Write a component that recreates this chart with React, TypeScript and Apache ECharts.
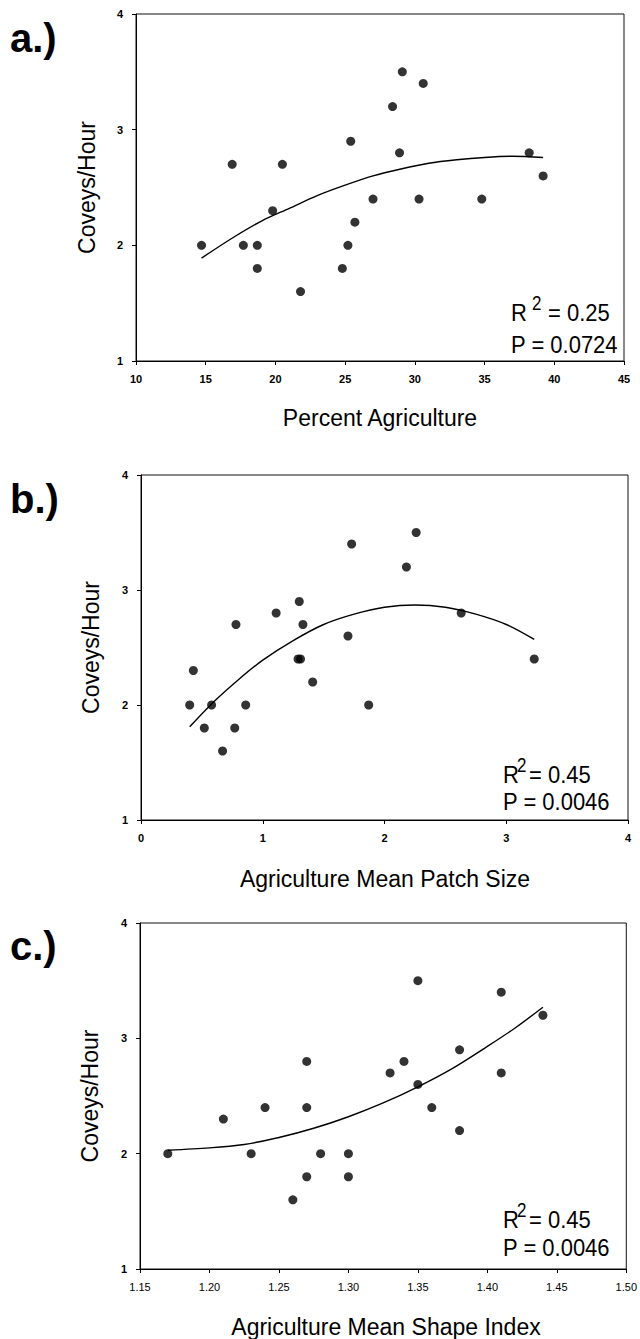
import React, { useEffect, useRef } from 'react';
import * as echarts from 'echarts';

const FONT = '"Liberation Sans", Arial, Helvetica, sans-serif';

// ---- Data ----
const pointsA: [number, number][] = [
  [14.7, 2.0], [16.9, 2.7], [17.7, 2.0], [18.7, 2.0], [18.7, 1.8], [19.8, 2.3], [20.5, 2.7],
  [21.8, 1.6], [24.8, 1.8], [25.2, 2.0], [25.4, 2.9], [25.7, 2.2], [27.0, 2.4], [28.4, 3.2],
  [29.1, 3.5], [28.9, 2.8], [30.3, 2.4], [30.6, 3.4], [34.8, 2.4], [38.2, 2.8], [39.2, 2.6],
];
const fitA: [number, number][] = [
  [14.7, 1.89], [17, 2.07], [19, 2.21], [21, 2.32], [23, 2.43], [25, 2.52], [27, 2.6],
  [29, 2.66], [31, 2.71], [33, 2.74], [35, 2.76], [37, 2.77], [39.2, 2.76],
];
const pointsB: [number, number][] = [
  [0.40, 2.0], [0.43, 2.3], [0.52, 1.8], [0.58, 2.0], [0.67, 1.6], [0.77, 1.8], [0.78, 2.7],
  [0.86, 2.0], [1.11, 2.8], [1.30, 2.9], [1.33, 2.7], [1.29, 2.4], [1.31, 2.4], [1.41, 2.2],
  [1.70, 2.6], [1.73, 3.4], [1.87, 2.0], [2.18, 3.2], [2.26, 3.5], [2.63, 2.8], [3.23, 2.4],
];
const fitB: [number, number][] = [
  [0.40, 1.81], [0.6, 2.03], [0.8, 2.22], [1.0, 2.39], [1.25, 2.56], [1.5, 2.7], [1.75, 2.79],
  [2.0, 2.85], [2.25, 2.87], [2.5, 2.85], [2.75, 2.79], [3.0, 2.7], [3.23, 2.57],
];
const pointsC: [number, number][] = [
  [1.17, 2.0], [1.21, 2.3], [1.23, 2.0], [1.24, 2.4], [1.26, 1.6], [1.27, 2.8], [1.27, 2.4],
  [1.27, 1.8], [1.28, 2.0], [1.30, 2.0], [1.30, 1.8], [1.33, 2.7], [1.34, 2.8], [1.35, 3.5],
  [1.35, 2.6], [1.36, 2.4], [1.38, 2.9], [1.38, 2.2], [1.41, 3.4], [1.41, 2.7], [1.44, 3.2],
];
const fitC: [number, number][] = [
  [1.17, 2.03], [1.2, 2.05], [1.225, 2.08], [1.25, 2.14], [1.275, 2.22], [1.3, 2.32],
  [1.325, 2.44], [1.35, 2.58], [1.375, 2.74], [1.4, 2.93], [1.42, 3.09], [1.44, 3.27],
];

const panelLabels = ['a.)', 'b.)', 'c.)'];
const xTitles = ['Percent Agriculture', 'Agriculture Mean Patch Size', 'Agriculture Mean Shape Index'];
const yTitle = 'Coveys/Hour';
const r2Values = ['= 0.25', '= 0.45', '= 0.45'];
const pValues = ['P = 0.0724', 'P = 0.0046', 'P = 0.0046'];
const xRanges: [number, number, number][] = [[10, 45, 5], [0, 4, 1], [1.15, 1.5, 0.05]];
const xDecimals = [0, 0, 2];
const yRange: [number, number, number] = [1, 4, 1];

// ---- Layout ----
const layout = [
  { grid: { left: 136, top: 14, width: 488, height: 347 }, labelY: 38, xTitle: [380, 418], yTitleP: [87, 187.5],
    r: [511, 312.5], sup: [532, 302.5], eq: [548, 312.5], p: [511, 344.5], boldTicks: true },
  { grid: { left: 141, top: 475, width: 487, height: 345 }, labelY: 499, xTitle: [385, 879], yTitleP: [91, 647.5],
    r: [503, 774.5], sup: [517, 764.5], eq: [529, 774.5], p: [503, 801.5], boldTicks: true },
  { grid: { left: 140, top: 923, width: 488, height: 346 }, labelY: 946, xTitle: [386, 1327], yTitleP: [90, 1096],
    r: [503, 1219.5], sup: [517, 1209.5], eq: [529, 1219.5], p: [503, 1247.5], boldTicks: false },
];

const pointSets = [pointsA, pointsB, pointsC];
const fitSets = [fitA, fitB, fitC];

function App() {
  const ref = useRef<HTMLDivElement>(null);
  useEffect(() => {
    document.body.style.margin = '0';
    const chart = echarts.init(ref.current!, null, { renderer: 'svg' });
    const axisCommon = {
      axisLine: { show: true, lineStyle: { color: '#000', width: 1 } },
      axisTick: { show: true, inside: false, length: 4, lineStyle: { color: '#000', width: 1 } },
      splitLine: { show: false },
    };
    const grids = layout.map((l) => ({
      ...l.grid,
      show: true,
      borderColor: '#111',
      borderWidth: 1,
      backgroundColor: 'transparent',
    }));
    const xAxes = layout.map((l, i) => ({
      type: 'value',
      gridIndex: i,
      min: xRanges[i][0],
      max: xRanges[i][1],
      interval: xRanges[i][2],
      ...axisCommon,
      axisLabel: {
        color: '#000',
        fontSize: 11,
        fontWeight: l.boldTicks ? 'bold' : 'normal',
        fontFamily: FONT,
        margin: 12,
        formatter: (v: number) => v.toFixed(xDecimals[i]),
      },
    }));
    const yAxes = layout.map((l, i) => ({
      type: 'value',
      gridIndex: i,
      min: yRange[0],
      max: yRange[1],
      interval: yRange[2],
      ...axisCommon,
      axisLabel: {
        color: '#000',
        fontSize: 11,
        fontWeight: 'bold',
        fontFamily: FONT,
        margin: 13,
      },
    }));
    const series: any[] = [];
    layout.forEach((_, i) => {
      series.push({
        type: 'scatter',
        xAxisIndex: i,
        yAxisIndex: i,
        data: pointSets[i],
        symbol: 'circle',
        symbolSize: 9,
        itemStyle: { color: '#000' },
        z: 3,
      });
      series.push({
        type: 'line',
        xAxisIndex: i,
        yAxisIndex: i,
        data: fitSets[i],
        smooth: 0.3,
        showSymbol: false,
        symbol: 'none',
        lineStyle: { color: '#000', width: 1.4 },
        z: 2,
      });
    });
    const txt = (x: number, y: number, text: string, fontSize: number, extra: any = {}, styleExtra: any = {}) => ({
      type: 'text', x, y, ...extra,
      style: { text, fontSize, fontFamily: FONT, fill: '#000', verticalAlign: 'middle', textAlign: 'left', ...styleExtra },
    });
    const graphics: any[] = [];
    layout.forEach((l, i) => {
      graphics.push(txt(10, l.labelY, panelLabels[i], 40, {}, { fontWeight: 'bold' }));
      graphics.push(txt(l.xTitle[0], l.xTitle[1], xTitles[i], 23, {}, { textAlign: 'center' }));
      graphics.push(txt(l.yTitleP[0], l.yTitleP[1], yTitle, 23, { rotation: Math.PI / 2 }, { textAlign: 'center' }));
      graphics.push(txt(l.r[0], l.r[1], 'R', 22, { scaleY: 1.12 }));
      graphics.push(txt(l.sup[0], l.sup[1], '2', 17, { scaleY: 1.2 }));
      graphics.push(txt(l.eq[0], l.eq[1], r2Values[i], 22, { scaleY: 1.12 }));
      graphics.push(txt(l.p[0], l.p[1], pValues[i], 22, { scaleY: 1.12 }));
    });
    chart.setOption({
      animation: false,
      backgroundColor: '#fff',
      grid: grids,
      xAxis: xAxes,
      yAxis: yAxes,
      series,
      graphic: graphics,
    });
    return () => chart.dispose();
  }, []);
  return <div ref={ref} style={{ width: 640, height: 1339, background: '#fff' }} />;
}

export default App;
